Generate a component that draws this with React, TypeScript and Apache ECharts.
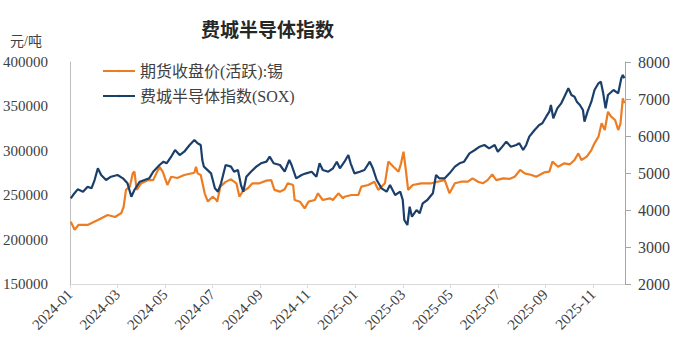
import React, { useEffect, useRef } from "react";
import * as echarts from "echarts";

const chartTitle = "费城半导体指数";
const unitLabel = "元/吨";
const tinName = "期货收盘价(活跃):锡";
const soxName = "费城半导体指数(SOX)";

const tinDates = [
  "2024-01-02","2024-01-07","2024-01-12","2024-01-24","2024-02-06","2024-02-18","2024-02-27","2024-03-06","2024-03-09","2024-03-12",
  "2024-03-17","2024-03-21","2024-03-23","2024-03-26","2024-04-01","2024-04-10","2024-04-16","2024-04-24","2024-04-28","2024-05-04",
  "2024-05-09","2024-05-17","2024-05-26","2024-06-08","2024-06-10","2024-06-12","2024-06-16","2024-06-21","2024-06-25","2024-07-01",
  "2024-07-06","2024-07-07","2024-07-11","2024-07-18","2024-07-25","2024-08-01","2024-08-05","2024-08-09","2024-08-16","2024-08-22",
  "2024-08-31","2024-09-09","2024-09-15","2024-09-19","2024-09-26","2024-10-02","2024-10-06","2024-10-13","2024-10-15","2024-10-22",
  "2024-10-28","2024-11-02","2024-11-10","2024-11-14","2024-11-20","2024-11-29","2024-12-03","2024-12-10","2024-12-16","2024-12-18",
  "2024-12-27","2025-01-05","2025-01-09","2025-01-18","2025-01-26","2025-01-31","2025-02-08","2025-02-12","2025-02-18","2025-02-24",
  "2025-02-27","2025-03-02","2025-03-05","2025-03-08","2025-03-14","2025-03-25","2025-04-07","2025-04-15","2025-04-24","2025-04-30",
  "2025-05-07","2025-05-15","2025-05-24","2025-05-30","2025-06-06","2025-06-12","2025-06-18","2025-06-24","2025-06-29","2025-07-08",
  "2025-07-16","2025-07-23","2025-07-30","2025-08-05","2025-08-14","2025-08-20","2025-08-31","2025-09-06","2025-09-10","2025-09-17",
  "2025-09-25","2025-10-02","2025-10-08","2025-10-13","2025-10-17","2025-10-24","2025-10-30","2025-11-03","2025-11-08","2025-11-12",
  "2025-11-16","2025-11-20","2025-11-24","2025-11-29","2025-12-03","2025-12-06","2025-12-09","2025-12-11"
];
const tinValues = [
  220000,211000,216500,216500,222000,227700,225500,230000,237000,256000,
  259600,275000,276500,256000,263600,267000,267000,282000,276500,261500,
  270800,269400,272700,275300,282000,274600,272700,252100,242800,248300,
  244600,242700,259600,265000,267900,263400,248300,254000,257800,263400,
  263400,266400,267000,256000,254000,256700,263400,261500,244600,242700,
  235200,242700,244600,252100,244600,246500,244600,252100,246500,248300,
  250200,250200,259600,261500,265200,256000,263400,287800,282100,276500,
  285900,299000,278400,256000,261500,263400,263400,265200,267000,252100,
  263400,265200,265200,269000,265200,263400,267000,273500,267000,269000,
  268300,270800,278400,274600,272700,270800,275800,276500,287800,282100,
  285900,284800,289600,297100,289600,293400,300900,308400,315900,331000,
  323400,344000,338400,334700,323400,331000,359100,353500
];

const soxDates = [
  "2024-01-02","2024-01-05","2024-01-11","2024-01-18","2024-01-24","2024-01-29","2024-02-02","2024-02-06","2024-02-10","2024-02-16",
  "2024-02-22","2024-03-01","2024-03-08","2024-03-14","2024-03-19","2024-03-23","2024-03-30","2024-04-05","2024-04-11","2024-04-16",
  "2024-04-24","2024-04-29","2024-05-03","2024-05-09","2024-05-14","2024-05-20","2024-05-26","2024-06-02","2024-06-08","2024-06-12",
  "2024-06-16","2024-06-18","2024-06-20","2024-06-29","2024-07-04","2024-07-08","2024-07-12","2024-07-18","2024-07-25","2024-07-29",
  "2024-08-03","2024-08-07","2024-08-10","2024-08-14","2024-08-20","2024-08-27","2024-09-02","2024-09-09","2024-09-13","2024-09-18",
  "2024-09-26","2024-10-02","2024-10-08","2024-10-11","2024-10-17","2024-10-24","2024-10-30","2024-11-06","2024-11-12","2024-11-16",
  "2024-11-20","2024-11-27","2024-12-03","2024-12-08","2024-12-12","2024-12-18","2024-12-23","2024-12-26","2024-12-31","2025-01-07",
  "2025-01-13","2025-01-20","2025-01-24","2025-01-29","2025-02-04","2025-02-10","2025-02-14","2025-02-20","2025-02-26","2025-03-01",
  "2025-03-03","2025-03-07","2025-03-10","2025-03-13","2025-03-19","2025-03-23","2025-03-27","2025-04-02","2025-04-09","2025-04-13",
  "2025-04-17","2025-04-24","2025-04-30","2025-05-07","2025-05-13","2025-05-19","2025-05-26","2025-06-02","2025-06-08","2025-06-14",
  "2025-06-20","2025-06-27","2025-07-01","2025-07-05","2025-07-12","2025-07-18","2025-07-25","2025-07-29","2025-08-03","2025-08-07",
  "2025-08-11","2025-08-18","2025-08-24","2025-08-28","2025-09-02","2025-09-06","2025-09-08","2025-09-11","2025-09-16","2025-09-21",
  "2025-09-25","2025-09-30","2025-10-04","2025-10-08","2025-10-11","2025-10-15","2025-10-19","2025-10-21","2025-10-25","2025-10-30",
  "2025-11-03","2025-11-08","2025-11-11","2025-11-14","2025-11-17","2025-11-20","2025-11-27","2025-12-03","2025-12-07","2025-12-09",
  "2025-12-11"
];
const soxValues = [
  4316,4405,4559,4494,4630,4586,4810,5127,4946,4810,
  4900,4946,4856,4721,4360,4540,4765,4810,4856,5035,
  5216,5306,5262,5441,5621,5486,5576,5757,5892,5802,
  5757,5351,5171,4991,4586,4495,4721,5216,5171,5035,
  5081,4675,4495,4900,5035,5171,5262,5306,5441,5262,
  5216,5035,5351,5216,4856,4946,4991,5035,4900,5262,
  5081,5035,5127,5306,5127,5306,5486,5262,4991,5035,
  5081,5306,5127,4810,4586,4495,4675,4405,4495,4270,
  3730,3594,4089,3819,4000,3910,4180,4270,4451,4946,
  4856,4856,4991,5171,5262,5306,5532,5621,5711,5757,
  5667,5757,5576,5667,5847,5711,5757,5802,5621,5757,
  5982,6162,6297,6343,6522,6658,6838,6478,6748,6883,
  7063,7289,7108,7063,6928,6838,6703,6387,6658,6928,
  7243,7424,7468,7154,6748,7108,7243,7154,7559,7649,
  7559
];

const startYear = 2024;
const xTickValues = [0, 2, 4, 6, 8, 10, 12, 14, 16, 18, 20, 22];
const xMax = 23.35;

function monthIndex(d: string): number {
  const [y, m, day] = d.split("-").map(Number);
  const dim = new Date(y, m, 0).getDate();
  return (y - startYear) * 12 + (m - 1) + (day - 1) / dim;
}

function monthLabel(v: number): string {
  const y = startYear + Math.floor(v / 12);
  const m = Math.round(v % 12) + 1;
  return `${y}-${String(m).padStart(2, "0")}`;
}

const FONT = "'Liberation Serif', 'Noto Sans CJK SC', serif";

export default function App() {
  const ref = useRef<HTMLDivElement>(null);
  useEffect(() => {
    document.body.style.margin = "0";
    if (!ref.current) return;
    const chart = echarts.init(ref.current, undefined, { renderer: "svg" });
    const tinData = tinDates.map((d, i) => [monthIndex(d), tinValues[i]]);
    const soxData = soxDates.map((d, i) => [monthIndex(d), soxValues[i]]);
    chart.setOption({
      animation: false,
      backgroundColor: "#ffffff",
      title: {
        text: chartTitle,
        left: 196,
        top: 14,
        textStyle: { fontFamily: "'Noto Sans CJK SC', serif", fontSize: 19, fontWeight: "bold", color: "#262626" },
      },
      graphic: [
        {
          type: "text",
          left: 10,
          top: 34,
          style: { text: unitLabel, fontFamily: FONT, fontSize: 14, fill: "#404040" },
        },
      ],
      legend: {
        orient: "vertical",
        left: 97,
        top: 58,
        itemWidth: 32,
        itemHeight: 3,
        itemGap: 9,
        textStyle: { fontFamily: FONT, fontSize: 16, color: "#404040" },
        data: [tinName, soxName],
      },
      grid: { left: 70, right: 59, top: 62, bottom: 68 },
      xAxis: {
        type: "value",
        min: 0,
        max: xMax,
        interval: 2,
        axisLine: { show: true, lineStyle: { color: "#d9d9d9", width: 1 } },
        axisTick: { show: true, length: 4, lineStyle: { color: "#d9d9d9" }, customValues: xTickValues },
        axisLabel: {
          rotate: 45,
          margin: 8,
          fontFamily: FONT,
          fontSize: 15,
          color: "#404040",
          customValues: xTickValues,
          formatter: (v: number) => monthLabel(v),
        },
        splitLine: { show: false },
      },
      yAxis: [
        {
          type: "value",
          min: 150000,
          max: 400000,
          interval: 50000,
          position: "left",
          axisLine: { show: true, lineStyle: { color: "#bfbfbf" } },
          axisTick: { show: false },
          axisLabel: { margin: 22, fontFamily: FONT, fontSize: 15, color: "#404040", formatter: (v: number) => String(v) },
          splitLine: { show: false },
        },
        {
          type: "value",
          min: 2000,
          max: 8000,
          interval: 1000,
          position: "right",
          axisLine: { show: true, lineStyle: { color: "#a6a6a6" } },
          axisTick: { show: true, length: 6, inside: false, lineStyle: { color: "#a6a6a6" } },
          axisLabel: { margin: 13, fontFamily: FONT, fontSize: 16, color: "#404040", formatter: (v: number) => String(v) },
          splitLine: { show: false },
        },
      ],
      series: [
        {
          name: tinName,
          type: "line",
          yAxisIndex: 0,
          data: tinData,
          symbol: "none",
          lineStyle: { color: "#ED7D22", width: 2.2 },
          itemStyle: { color: "#ED7D22" },
        },
        {
          name: soxName,
          type: "line",
          yAxisIndex: 1,
          data: soxData,
          symbol: "none",
          lineStyle: { color: "#1B3F6B", width: 2.2 },
          itemStyle: { color: "#1B3F6B" },
        },
      ],
    });
    return () => chart.dispose();
  }, []);
  return <div ref={ref} style={{ width: 684, height: 352 }} />;
}
